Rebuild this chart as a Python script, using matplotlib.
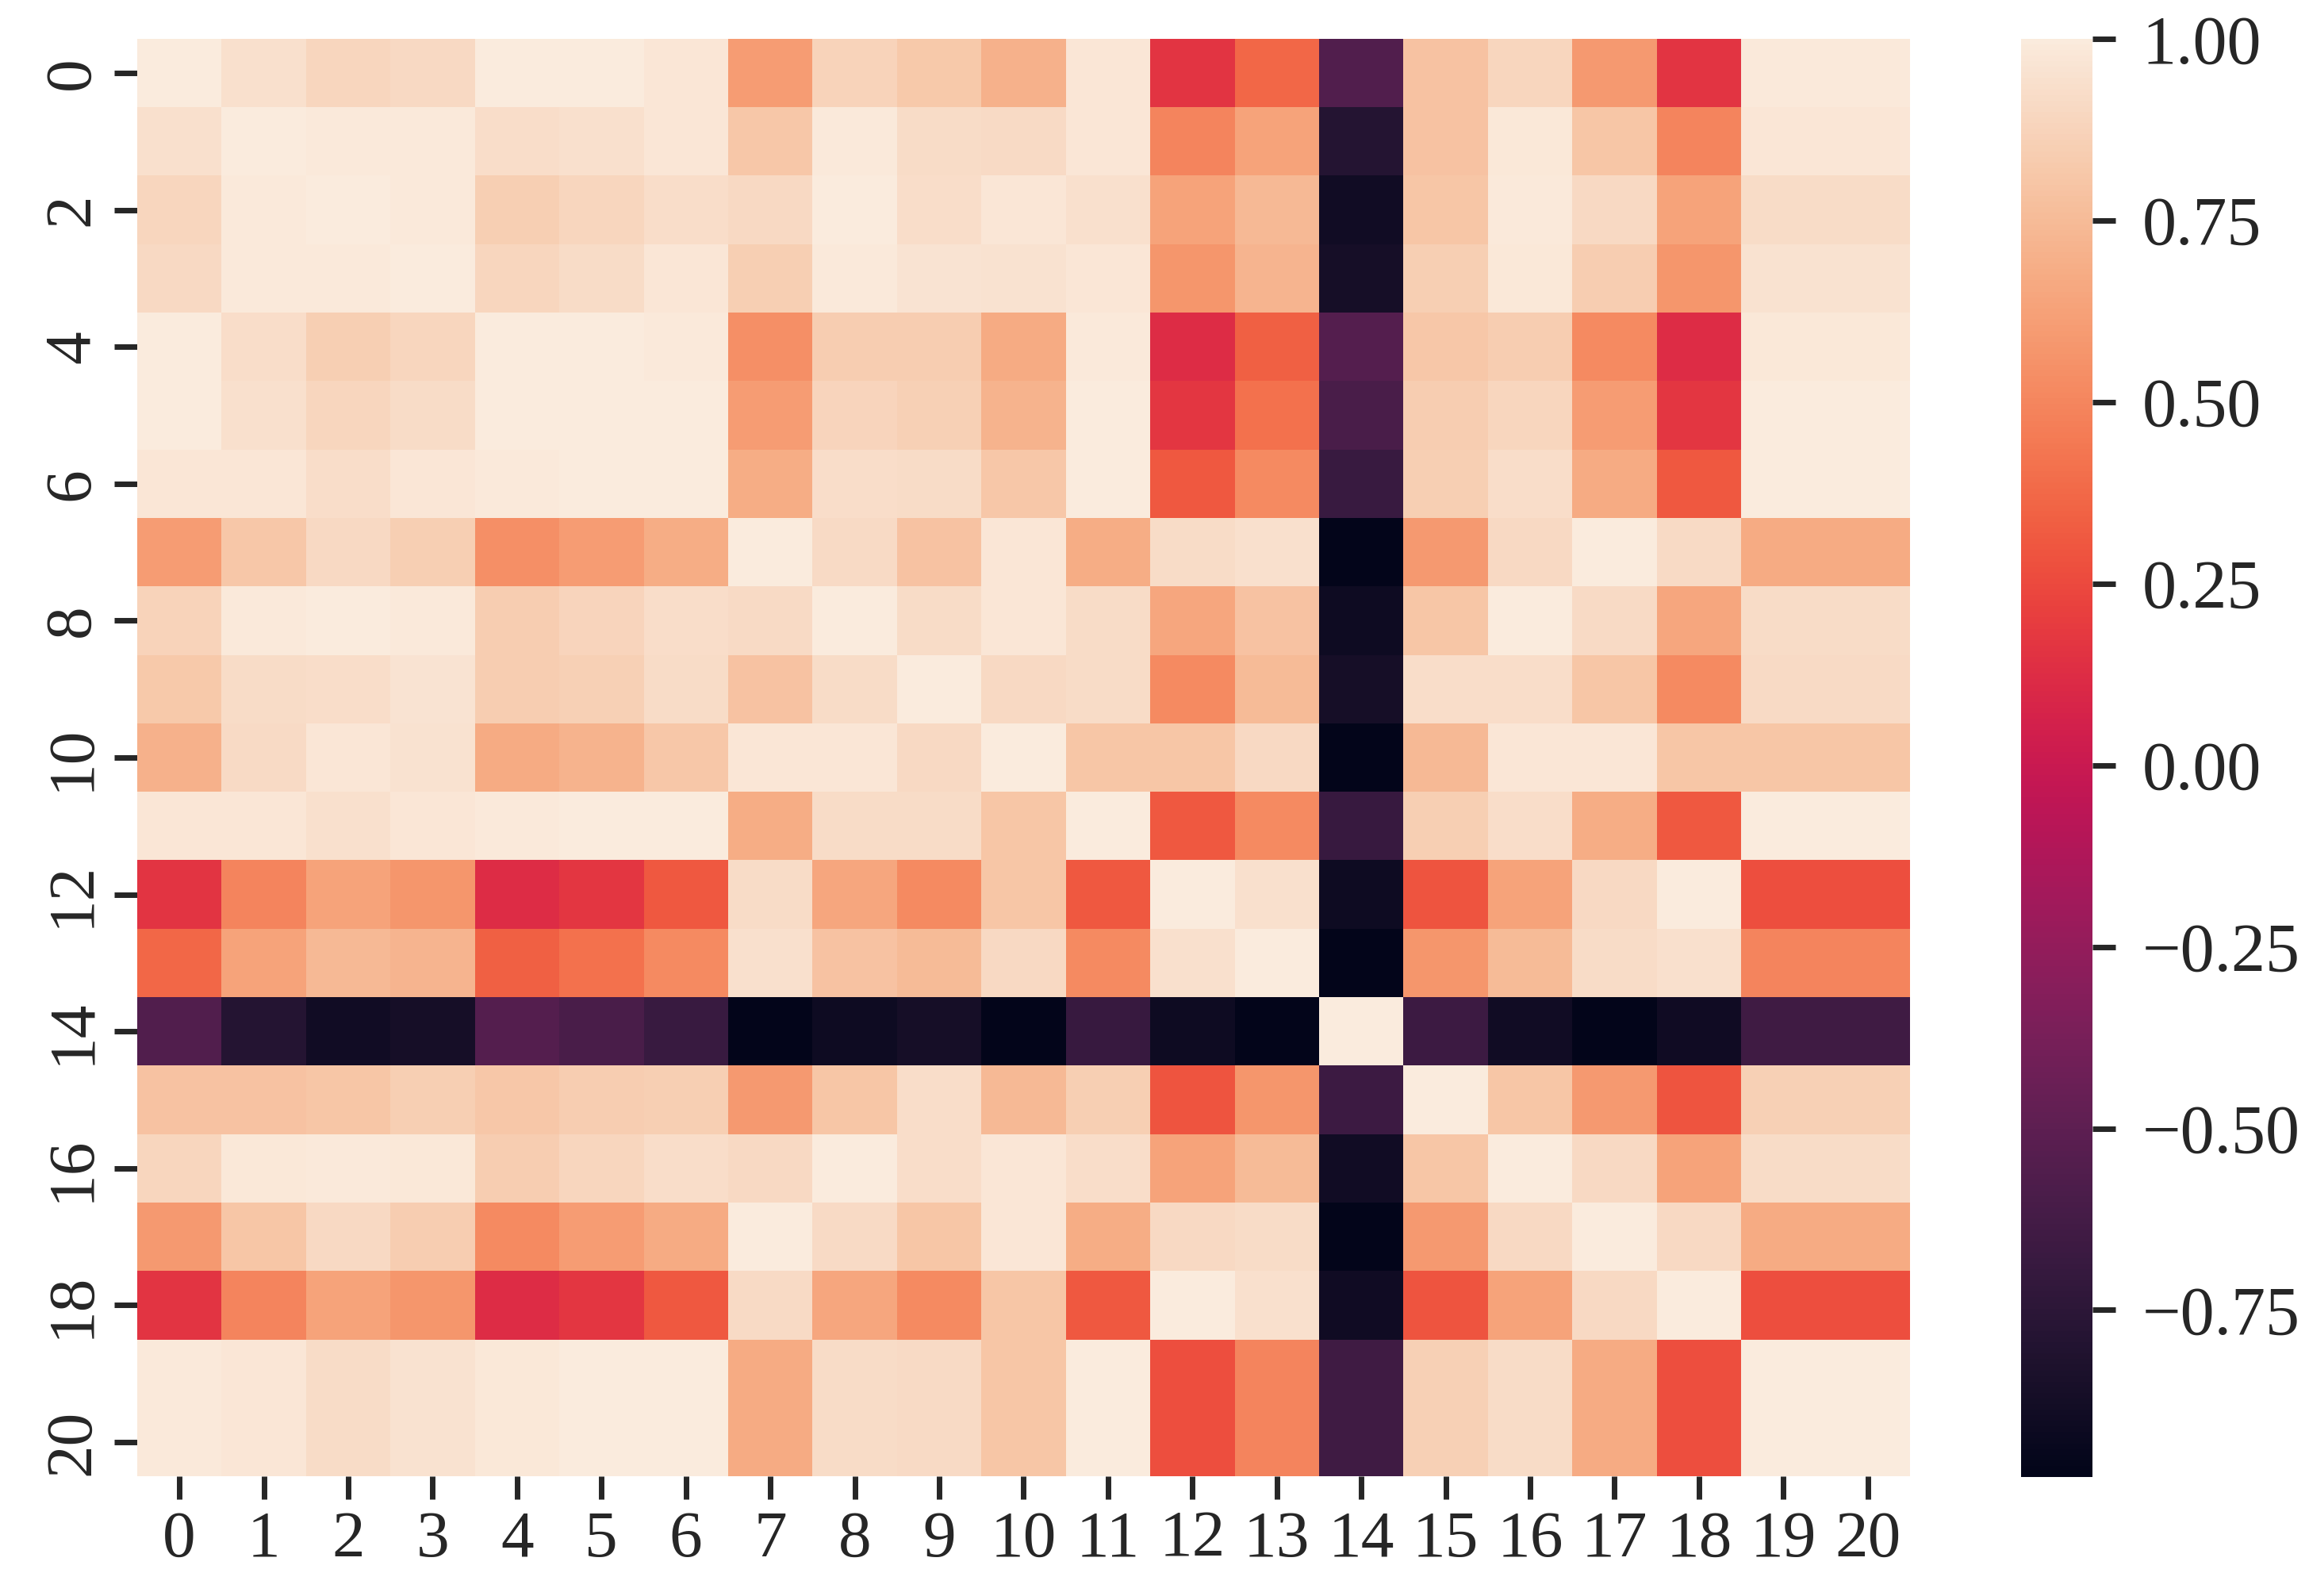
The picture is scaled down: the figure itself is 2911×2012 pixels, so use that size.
import numpy as np
import matplotlib
matplotlib.use("Agg")
import matplotlib.pyplot as plt
import seaborn as sns

labels = [str(i) for i in range(21)]

# upper triangle rows (from the diagonal onward), matrix is symmetric
upper = [
    [1.00, 0.94, 0.89, 0.90, 0.995, 0.995, 0.975, 0.60, 0.87, 0.82, 0.70, 0.975, 0.16, 0.37, -0.56, 0.79, 0.89, 0.59, 0.16, 0.99, 0.99],
    [1.00, 0.99, 0.99, 0.93, 0.94, 0.97, 0.81, 0.99, 0.92, 0.91, 0.97, 0.49, 0.63, -0.79, 0.79, 0.98, 0.80, 0.49, 0.97, 0.97],
    [1.00, 0.99, 0.85, 0.89, 0.93, 0.90, 0.995, 0.93, 0.97, 0.94, 0.63, 0.74, -0.89, 0.80, 0.99, 0.90, 0.63, 0.92, 0.92],
    [1.00, 0.89, 0.92, 0.97, 0.85, 0.985, 0.96, 0.95, 0.97, 0.57, 0.72, -0.87, 0.85, 0.98, 0.84, 0.57, 0.95, 0.95],
    [1.00, 0.995, 0.99, 0.54, 0.84, 0.84, 0.67, 0.99, 0.12, 0.34, -0.54, 0.81, 0.84, 0.52, 0.12, 0.98, 0.98],
    [1.00, 1.00, 0.60, 0.88, 0.86, 0.71, 1.00, 0.17, 0.41, -0.60, 0.84, 0.89, 0.60, 0.17, 1.00, 1.00],
    [1.00, 0.68, 0.93, 0.92, 0.81, 1.00, 0.31, 0.52, -0.68, 0.85, 0.93, 0.67, 0.31, 1.00, 1.00],
    [1.00, 0.91, 0.79, 0.975, 0.68, 0.92, 0.94, -0.98, 0.59, 0.90, 1.00, 0.91, 0.67, 0.67],
    [1.00, 0.92, 0.97, 0.92, 0.65, 0.79, -0.91, 0.80, 1.00, 0.91, 0.65, 0.92, 0.92],
    [1.00, 0.90, 0.92, 0.52, 0.75, -0.87, 0.93, 0.93, 0.80, 0.52, 0.91, 0.91],
    [1.00, 0.80, 0.80, 0.90, -0.98, 0.74, 0.975, 0.975, 0.80, 0.80, 0.80],
    [1.00, 0.31, 0.52, -0.69, 0.85, 0.93, 0.68, 0.31, 1.00, 1.00],
    [1.00, 0.94, -0.91, 0.29, 0.63, 0.90, 1.00, 0.27, 0.27],
    [1.00, -0.98, 0.57, 0.75, 0.92, 0.94, 0.49, 0.49],
    [1.00, -0.67, -0.89, -0.98, -0.90, -0.65, -0.65],
    [1.00, 0.80, 0.59, 0.29, 0.86, 0.86],
    [1.00, 0.90, 0.63, 0.92, 0.92],
    [1.00, 0.90, 0.67, 0.67],
    [1.00, 0.27, 0.27],
    [1.00, 1.00],
    [1.00],
]

n = len(labels)
corr = np.zeros((n, n))
for i, row in enumerate(upper):
    corr[i, i:] = row
    corr[i:, i] = row

sns.set_style("ticks")
plt.rcParams['font.family'] = ['Liberation Serif', 'DejaVu Serif']

fig = plt.figure(figsize=(14.555, 10.06), dpi=200)
ax = fig.add_axes([0.0594, 0.0750, 0.7678, 0.9007])
cax = fig.add_axes([0.8753, 0.0745, 0.0309, 0.9012])

sns.heatmap(corr, ax=ax, cbar_ax=cax, cmap="rocket")

ax.set_xticks(np.arange(n) + 0.5)
ax.set_xticklabels(labels, rotation=0)
ax.set_yticks(np.arange(0, n, 2) + 0.5)
ax.set_yticklabels(labels[::2], rotation=90, va="center")
ax.tick_params(labelsize=30, length=10.5, width=2.5)
ax.tick_params(axis="x", pad=5)
ax.tick_params(axis="y", pad=5)

cax.set_yticks([-0.75, -0.5, -0.25, 0.0, 0.25, 0.5, 0.75, 1.0])
cax.set_yticklabels(["\u22120.75", "\u22120.50", "\u22120.25", "0.00", "0.25", "0.50", "0.75", "1.00"])
cax.tick_params(labelsize=31, length=10.5, width=2.5, pad=12)

fig.savefig("out.png", dpi=200)
